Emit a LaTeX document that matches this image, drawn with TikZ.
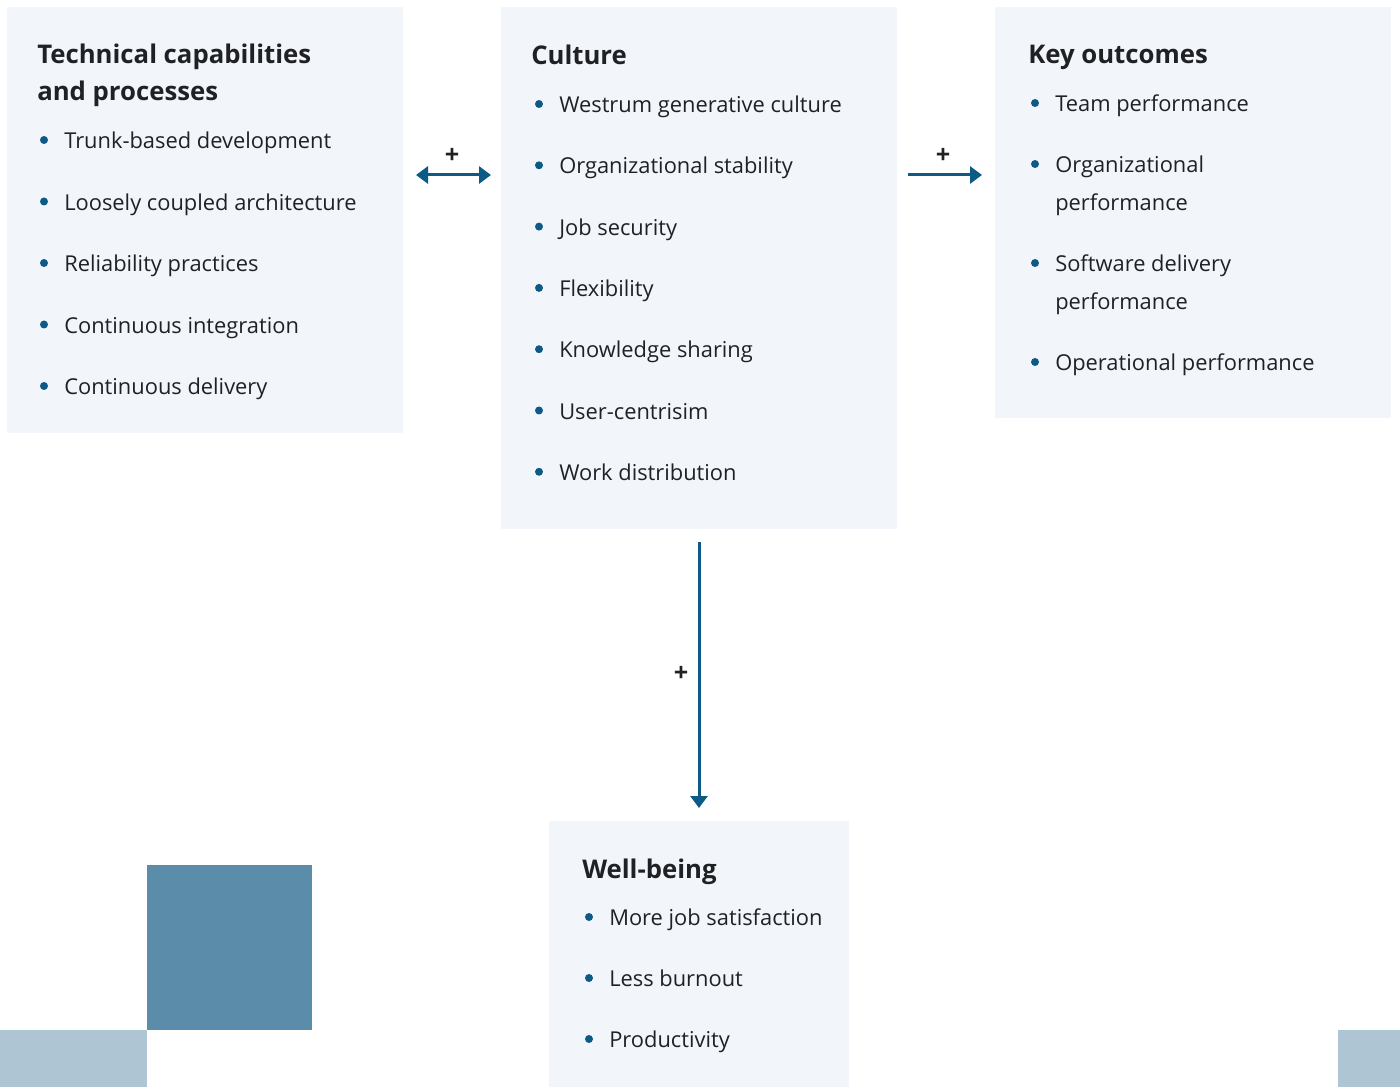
\documentclass[tikz,border=0pt]{standalone}
\usepackage{fontspec}
\setmainfont{Open Sans}
\usetikzlibrary{arrows.meta}

\definecolor{panelbg}{HTML}{F2F6FA}
\definecolor{inkdark}{HTML}{202124}
\definecolor{linkblue}{HTML}{0E5A87}
\definecolor{tiledark}{HTML}{5B8DAA}
\definecolor{tilelight}{HTML}{AEC6D3}

\newcommand{\px}{0.75pt}

\tikzset{
    bluetip/.tip={Triangle[length=9pt, width=12.75pt]},
    panel/.style={fill=panelbg, inner sep=0, anchor=north west},
    % base west = baseline of the last line
    paneltitle/.style={anchor=base west, inner sep=0, align=left, text=inkdark,
        font=\fontsize{19.3}{27.75}\selectfont\bfseries},
    item/.style={anchor=base west, inner sep=0, align=left, text=inkdark,
        font=\fontsize{16.4}{28.5}\selectfont},
    dot/.style={fill=linkblue},
    link/.style={draw=linkblue, line width=2.25pt, -bluetip},
    plus/.style={inner sep=0, text=inkdark, font=\fontsize{19}{19}\selectfont\bfseries}
}

\begin{document}
\begin{tikzpicture}[x=0.75pt,y=-0.75pt]
    \useasboundingbox (0,0) rectangle (1400,1087);
    % background tiles
    \fill[tiledark] (147,865) rectangle (312,1030);
    \fill[tilelight] (0,1030) rectangle (147,1087);
    \fill[tilelight] (1338,1030) rectangle (1400,1087);

    % panels
    \node[panel, minimum width=396*\px, minimum height=426*\px] (tech) at (7,7) {};
    \node[panel, minimum width=396*\px, minimum height=522*\px] (culture) at (501,7) {};
    \node[panel, minimum width=396*\px, minimum height=411*\px] (outcomes) at (995,7) {};
    \node[panel, minimum width=300*\px, minimum height=266*\px] (wellbeing) at (549,821) {};

    % Technical capabilities
    \node[paneltitle] (tech-title) at (37,101) {Technical capabilities\\and processes};
    \foreach \t [count=\i] in {Trunk-based development, Loosely coupled architecture,
        Reliability practices, Continuous integration, Continuous delivery} {
        \fill[dot] (44,{140+61.5*(\i-1)}) circle (4);
        \node[item] (tech-\i) at (64,{148.7+61.5*(\i-1)}) {\t};
    }

    % Culture
    \node[paneltitle] (culture-title) at (531,65) {Culture};
    \foreach \t [count=\i] in {Westrum generative culture, Organizational stability,
        Job security, Flexibility, Knowledge sharing, User-centrisim, Work distribution} {
        \fill[dot] (539,{104+61.3*(\i-1)}) circle (4);
        \node[item] (culture-\i) at (559,{112.7+61.3*(\i-1)}) {\t};
    }

    % Key outcomes
    \node[paneltitle] (outcomes-title) at (1028,64) {Key outcomes};
    \foreach \t/\yb/\dy [count=\i] in {Team performance/103/0,
        Organizational\\performance/164/38,
        Software delivery\\performance/263/38,
        Operational performance/362/0} {
        \fill[dot] (1035,\yb) circle (4);
        \node[item] (outcomes-\i) at (1055,\yb+8.7+\dy) {\t};
    }

    % Well-being
    \node[paneltitle] (wellbeing-title) at (582,878) {Well-being};
    \foreach \t [count=\i] in {More job satisfaction, Less burnout, Productivity} {
        \fill[dot] (589,{917+61*(\i-1)}) circle (4);
        \node[item] (wellbeing-\i) at (609,{925.7+61*(\i-1)}) {\t};
    }

    % connectors
    \coordinate (tc-end) at (416,175);
    \coordinate (cu-left) at (491,175);
    \coordinate (cu-right) at (908,175);
    \coordinate (ko-end) at (982,175);
    \coordinate (cu-bottom) at (699,542);
    \coordinate (wb-end) at (699,808);
    \draw[link, bluetip-bluetip] (tc-end) -- (cu-left);
    \draw[link] (cu-right) -- (ko-end);
    \draw[link] (cu-bottom) -- (wb-end);
    \node[plus] (plus-1) at (452,156) {+};
    \node[plus] (plus-2) at (943,156) {+};
    \node[plus] (plus-3) at (681,674) {+};
\end{tikzpicture}
\end{document}
